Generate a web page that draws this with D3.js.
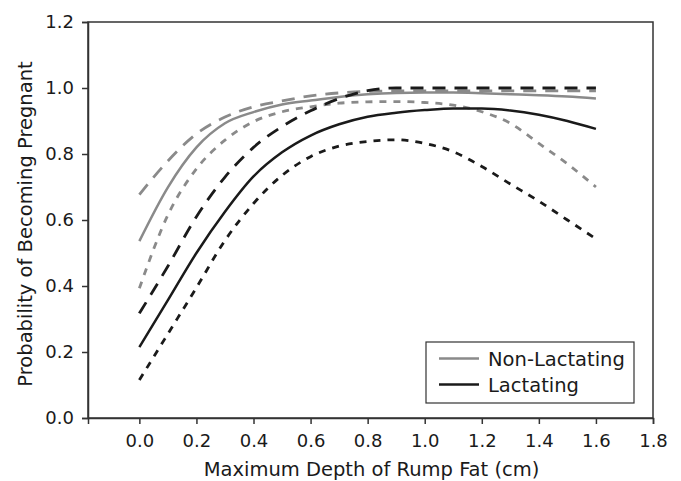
<!DOCTYPE html>
<html>
<head>
<meta charset="utf-8">
<script src="https://cdn.jsdelivr.net/npm/d3@7"></script>
<style>
  html, body { margin: 0; padding: 0; background: #fff; }
  svg { display: block; }
  text { font-family: "DejaVu Sans", sans-serif; fill: #1a1a1a; }
</style>
</head>
<body>
<svg id="chart" width="681" height="481"></svg>
<script>
// ---- data ----
const depth = [0.0, 0.1, 0.2, 0.3, 0.4, 0.5, 0.6, 0.7, 0.8, 0.9, 1.0, 1.1, 1.2, 1.3, 1.4, 1.5, 1.6];

const nonLactMean  = [0.536, 0.699, 0.820, 0.893, 0.927, 0.950, 0.962, 0.973, 0.981, 0.985, 0.986, 0.986, 0.984, 0.981, 0.978, 0.974, 0.968];
const nonLactUpper = [0.677, 0.779, 0.861, 0.912, 0.943, 0.961, 0.976, 0.985, 0.990, 0.991, 0.991, 0.991, 0.991, 0.991, 0.991, 0.991, 0.991];
const nonLactLower = [0.393, 0.615, 0.755, 0.842, 0.898, 0.928, 0.943, 0.954, 0.958, 0.959, 0.956, 0.948, 0.928, 0.893, 0.832, 0.770, 0.700];

const lactMean  = [0.215, 0.357, 0.500, 0.625, 0.732, 0.805, 0.856, 0.890, 0.913, 0.925, 0.933, 0.938, 0.938, 0.932, 0.919, 0.900, 0.876];
const lactUpper = [0.317, 0.460, 0.610, 0.730, 0.820, 0.883, 0.931, 0.968, 0.992, 1.000, 1.000, 1.000, 1.000, 1.000, 1.000, 1.000, 1.000];
const lactLower = [0.115, 0.255, 0.395, 0.538, 0.650, 0.735, 0.792, 0.824, 0.838, 0.843, 0.832, 0.807, 0.762, 0.709, 0.657, 0.600, 0.543];

const xTicks = [0.0, 0.2, 0.4, 0.6, 0.8, 1.0, 1.2, 1.4, 1.6, 1.8];
const yTicks = [0.0, 0.2, 0.4, 0.6, 0.8, 1.0, 1.2];
const legendLabels = ["Non-Lactating", "Lactating"];
const xTitle = "Maximum Depth of Rump Fat (cm)";
const yTitle = "Probability of Becoming Pregnant";

// ---- layout ----
const svg = d3.select("#chart");
const m = { left: 88, top: 22, right: 653, bottom: 418 };
const GRAY = "#8a8a8a", BLACK = "#1a1a1a", AXIS = "#333";

const x = d3.scaleLinear().domain([-0.18, 1.8]).range([m.left, m.right]);
const y = d3.scaleLinear().domain([0, 1.2]).range([m.bottom, m.top]);

// curves
const series = [
  { v: nonLactUpper, color: GRAY,  dash: "13,9", w: 2.8 },
  { v: nonLactMean,  color: GRAY,  dash: null,   w: 2.5 },
  { v: nonLactLower, color: GRAY,  dash: "7,7",  w: 2.8 },
  { v: lactUpper,    color: BLACK, dash: "13,9", w: 2.8 },
  { v: lactMean,     color: BLACK, dash: null,   w: 2.5 },
  { v: lactLower,    color: BLACK, dash: "7,7",  w: 2.8 }
];
const line = d3.line().x(d => x(d[0])).y(d => y(d[1])).curve(d3.curveMonotoneX);
svg.append("g").selectAll("path").data(series).join("path")
  .attr("d", s => line(depth.map((d, i) => [d, s.v[i]])))
  .attr("fill", "none")
  .attr("stroke", s => s.color)
  .attr("stroke-width", s => s.w)
  .attr("stroke-dasharray", s => s.dash);

// frame
svg.append("rect")
  .attr("x", m.left).attr("y", m.top)
  .attr("width", m.right - m.left).attr("height", m.bottom - m.top)
  .attr("fill", "none").attr("stroke", AXIS).attr("stroke-width", 1.5);

// axes
const xAxis = svg.append("g").attr("transform", `translate(0,${m.bottom})`)
  .call(d3.axisBottom(x).tickValues(xTicks).tickFormat(d3.format(".1f")).tickSize(6).tickPadding(10));
const yAxis = svg.append("g").attr("transform", `translate(${m.left},0)`)
  .call(d3.axisLeft(y).tickValues(yTicks).tickFormat(d3.format(".1f")).tickSize(6).tickPadding(8));
[xAxis, yAxis].forEach(g => {
  g.select(".domain").attr("stroke", AXIS).attr("stroke-width", 1.5);
  g.selectAll(".tick line").attr("stroke", AXIS).attr("stroke-width", 1.5);
  g.selectAll(".tick text").style("font-family", "'DejaVu Sans', sans-serif")
    .style("font-size", "18px").attr("fill", "#1a1a1a");
});

// titles
svg.append("text").attr("x", (m.left + m.right) / 2 + 1).attr("y", 476)
  .attr("text-anchor", "middle").style("font-size", "19.5px").text(xTitle);
svg.append("text").attr("transform", `translate(32,${(m.top + m.bottom) / 2 + 4}) rotate(-90)`)
  .attr("text-anchor", "middle").style("font-size", "19.5px").text(yTitle);

// legend
const lg = svg.append("g");
lg.append("rect").attr("x", 426).attr("y", 342).attr("width", 208).attr("height", 61)
  .attr("fill", "#fff").attr("stroke", AXIS).attr("stroke-width", 1.2);
const legendColors = [GRAY, BLACK];
const rowY = [358.5, 384.5];
legendLabels.forEach((lab, i) => {
  lg.append("line").attr("x1", 439).attr("x2", 479).attr("y1", rowY[i]).attr("y2", rowY[i])
    .attr("stroke", legendColors[i]).attr("stroke-width", 2.5);
  lg.append("text").attr("x", 488).attr("y", rowY[i] + 7)
    .style("font-size", "19.5px").text(lab);
});
</script>
</body>
</html>
